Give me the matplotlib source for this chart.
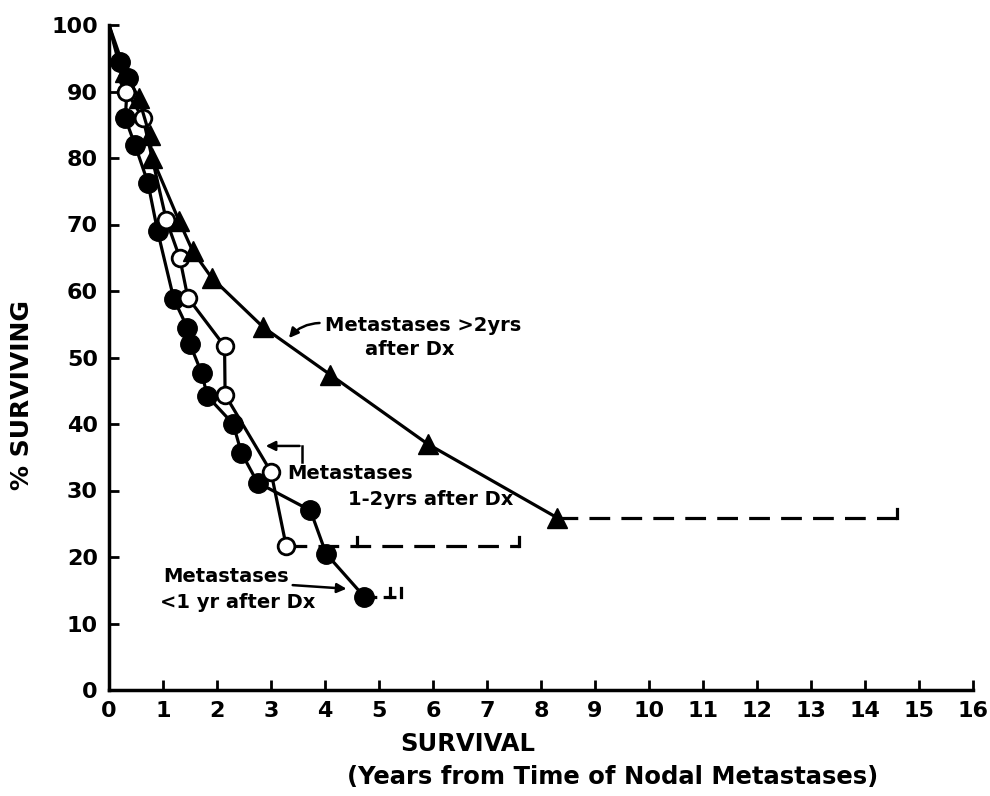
import matplotlib.pyplot as plt

# survival curves (years, % surviving)
late_years = [0, 0.3, 0.55, 0.75, 0.8, 1.3, 1.55, 1.9, 2.85, 4.1, 5.9, 8.3]
late_pct = [100, 93, 89, 83.5, 80, 70.5, 66, 62, 54.6, 47.4, 37, 25.9]

mid_years = [0, 0.32, 0.63, 1.06, 1.31, 1.46, 2.14, 2.15, 3.0, 3.28]
mid_pct = [100, 90, 86, 70.7, 65, 59, 51.7, 44.4, 32.8, 21.7]

early_years = [0, 0.2, 0.35, 0.3, 0.48, 0.72, 0.9, 1.2, 1.45, 1.5, 1.72, 1.82,
               2.3, 2.45, 2.75, 3.73, 4.02, 4.73]
early_pct = [100, 94.5, 92, 86, 82, 76.3, 69, 58.8, 54.5, 52, 47.6, 44.2,
             40, 35.7, 31.2, 27, 20.5, 14]

# censored tails (dashed), end of follow-up
late_tail_end = 14.6
mid_tail_end = 7.6
mid_tail_mark = 4.6
early_tail_end = 5.4
early_tail_mark = 5.2

x_ticks = list(range(0, 17))
y_ticks = list(range(0, 101, 10))

plt.rcParams['font.family'] = ['DejaVu Sans']
plt.rcParams['font.weight'] = 'bold'

fig = plt.figure(figsize=(9.9, 7.96), dpi=100)
ax = fig.add_axes([109 / 990, 106 / 796, 864 / 990, 665 / 796])

lw = 2.3
dash = (0, (6.5, 3.5))

# dashed tails
ax.plot([late_years[-1], late_tail_end], [late_pct[-1]] * 2, color="black", lw=lw, linestyle=dash, zorder=1)
ax.plot([late_tail_end] * 2, [late_pct[-1], late_pct[-1] + 1.3], color="black", lw=lw)
ax.plot([mid_years[-1], mid_tail_end], [mid_pct[-1]] * 2, color="black", lw=lw, linestyle=dash, zorder=1)
ax.plot([mid_tail_end] * 2, [mid_pct[-1], mid_pct[-1] + 1.3], color="black", lw=lw)
ax.plot([mid_tail_mark] * 2, [mid_pct[-1], mid_pct[-1] + 1.3], color="black", lw=lw)
ax.plot([early_years[-1], early_tail_end], [early_pct[-1]] * 2, color="black", lw=lw, linestyle=(0, (4, 2)), zorder=1)
ax.plot([early_tail_end] * 2, [early_pct[-1], early_pct[-1] + 1.3], color="black", lw=lw)
ax.plot([early_tail_mark] * 2, [early_pct[-1], early_pct[-1] + 1.3], color="black", lw=lw)

# the three curves (no marker at the common starting point)
ax.plot(early_years, early_pct, color="black", lw=lw, marker="o", markersize=14,
        markerfacecolor="black", markevery=slice(1, None), zorder=2)
ax.plot(mid_years, mid_pct, color="black", lw=lw, marker="o", markersize=12,
        markerfacecolor="white", markeredgewidth=2, markevery=slice(1, None), zorder=3)
ax.plot(late_years, late_pct, color="black", lw=lw, marker="^", markersize=14,
        markerfacecolor="black", markevery=slice(1, None), zorder=3)

# labels with arrows
txt = dict(fontsize=14, color="black", va="center", fontweight="bold")
ax.text(4.0, 54.8, "Metastases >2yrs", ha="left", **txt)
ax.text(4.74, 51.2, "after Dx", ha="left", **txt)
ax.annotate("", xy=(3.3, 52.6), xytext=(3.95, 55.2),
            arrowprops=dict(arrowstyle="-|>", color="black", lw=1.8,
                            connectionstyle="arc3,rad=0.25", mutation_scale=14))

ax.text(3.3, 32.6, "Metastases", ha="left", **txt)
ax.text(4.43, 28.7, "1-2yrs after Dx", ha="left", **txt)
ax.plot([3.57, 3.57], [34.3, 36.7], color="black", lw=1.8)
ax.annotate("", xy=(2.85, 36.7), xytext=(3.58, 36.7),
            arrowprops=dict(arrowstyle="-|>", color="black", lw=1.8, mutation_scale=14))

ax.text(1.0, 17.1, "Metastases", ha="left", **txt)
ax.text(0.94, 13.2, "<1 yr after Dx", ha="left", **txt)
ax.annotate("", xy=(4.45, 15.2), xytext=(3.35, 15.8),
            arrowprops=dict(arrowstyle="-|>", color="black", lw=1.8, mutation_scale=14))

# axes
ax.set_xlim(0, 16)
ax.set_ylim(0, 100)
ax.set_xticks(x_ticks)
ax.set_yticks(y_ticks)
ax.tick_params(direction="in", length=7, width=2, labelsize=16, pad=8)
ax.spines["top"].set_visible(False)
ax.spines["right"].set_visible(False)
ax.spines["left"].set_linewidth(2.5)
ax.spines["bottom"].set_linewidth(2.5)
for sp in ax.spines.values():
    sp.set_clip_on(False)

fig.text(22 / 990, 1 - 395 / 796, "% SURVIVING", fontsize=18, rotation=90,
         ha="center", va="center", fontweight="bold")
fig.text(468 / 990, 1 - 744 / 796, "SURVIVAL", fontsize=17.5, ha="center", va="center",
         fontweight="bold")
fig.text(613 / 990, 1 - 777 / 796, "(Years from Time of Nodal Metastases)", fontsize=17.5,
         ha="center", va="center", fontweight="bold")

fig.savefig("out.png", dpi=100)
